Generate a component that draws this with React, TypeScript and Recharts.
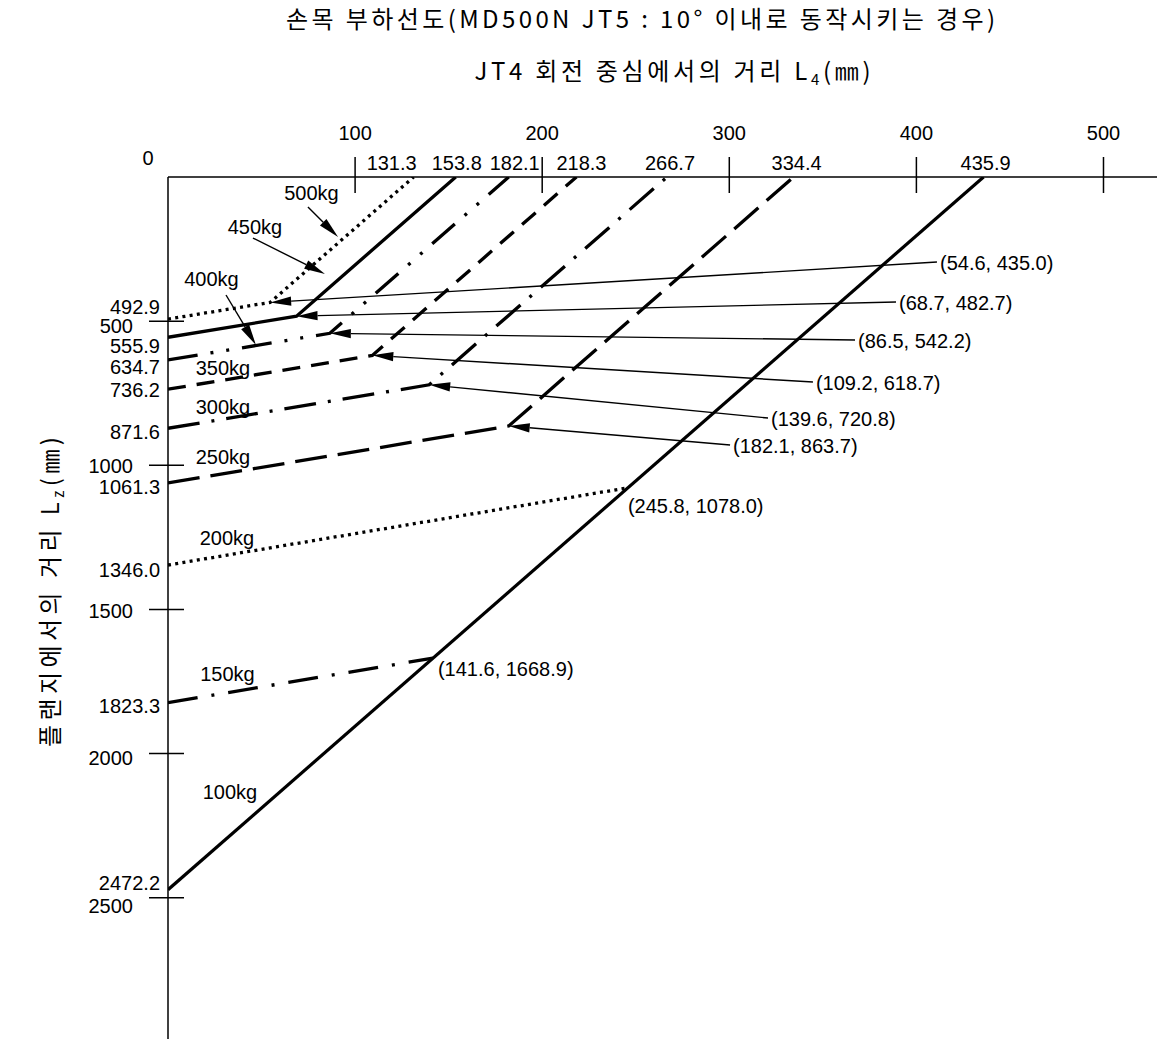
import React from 'react';
import { LineChart, Line, XAxis, YAxis, ReferenceLine, ReferenceDot } from 'recharts';

// load cases, heaviest first
const loads = ['500kg', '450kg', '400kg', '350kg', '300kg', '250kg', '200kg', '150kg', '100kg'];
// Lz where each curve starts on the L4 = 0 axis (mm)
const lzAtAxis = [492.9, 555.9, 634.7, 736.2, 871.6, 1061.3, 1346.0, 1823.3, 2472.2];
// knee of each curve (100kg is a single straight line)
const kneeL4 = [54.6, 68.7, 86.5, 109.2, 139.6, 182.1, 245.8, 141.6, null];
const kneeLz = [435.0, 482.7, 542.2, 618.7, 720.8, 863.7, 1078.0, 1668.9, null];
// L4 where the curve reaches Lz = 0 (150kg / 200kg stop on the 100kg line)
const l4AtAxis = [131.3, 153.8, 182.1, 218.3, 266.7, 334.4, null, null, 435.9];

const l4Ticks = [100, 200, 300, 400, 500];
const lzTicks = [500, 1000, 1500, 2000, 2500];

// line styles per load
const strokes: { w: number; dash?: string }[] = [
  { w: 3.3, dash: '3 4.3' },
  { w: 3.3 },
  { w: 3.3, dash: '30 13 3 13 3 13' },
  { w: 3.3, dash: '18 11' },
  { w: 3.3, dash: '32 12 3 12' },
  { w: 3.3, dash: '32 11' },
  { w: 3.3, dash: '3 4.3' },
  { w: 3.3, dash: '30 14 3 14' },
  { w: 3.2 },
];

// annotation layout, in chart units (L4 mm, Lz mm)
const tagAt = [
  [76.7, 55.5], [46.5, 171.7], [23.2, 352.8], [29.4, 662.5], [29.4, 796.1],
  [29.4, 969.5], [31.5, 1252.2], [31.8, 1723.9], [33.1, 2131.5],
];
const tagPointer: Record<number, number[][]> = {
  0: [[74.8, 104.1], [90.9, 208.1]],
  1: [[45.4, 211.6], [83.9, 336.5]],
  2: [[31.0, 409.3], [47.0, 582.7]],
};
const calloutAt = [
  [411.0, 294.8], [389.1, 433.6], [367.2, 565.4], [344.7, 711.1], [320.7, 836.0], [300.4, 929.6],
  null, null, null,
];
// knee labels written next to the point instead of with an arrow (px offsets)
const kneeLabelOffset: Record<number, number[]> = { 6: [0, 18], 7: [5, 11] };

// small label nudges (px) so neighbouring numbers do not collide
const lzLabelDy = [-12, 9, 7, 1, 4, 4, 5, 3, -7];
const lzTickDy = [5, 1, 1, 4, 8];
const topEnds = l4AtAxis.filter((v): v is number => v != null);
const topEndDx = [-22, 1, 6, 5, 3, 3, 2];

const FONT_NUM = "'Liberation Sans', Arial, sans-serif";
const FONT_KR = "'Noto Sans CJK KR', 'Noto Sans', sans-serif";

const curve = (i: number) => {
  const pts = [{ l4: 0, lz: lzAtAxis[i] }];
  if (kneeL4[i] != null) pts.push({ l4: kneeL4[i] as number, lz: kneeLz[i] as number });
  if (l4AtAxis[i] != null) pts.push({ l4: l4AtAxis[i] as number, lz: 0 });
  return pts;
};

const num = (x: number, y: number, s: string, anchor: 'start' | 'middle' | 'end' = 'middle') => (
  <text x={x} y={y} dy="0.36em" textAnchor={anchor} fontFamily={FONT_NUM} fontSize={20} fill="#000">
    {s}
  </text>
);

function Arrow({ x1, y1, x2, y2 }: any) {
  const len = Math.hypot(x2 - x1, y2 - y1) || 1;
  const ux = (x2 - x1) / len;
  const uy = (y2 - y1) / len;
  const head = 21;
  const half = 4.6;
  const bx = x2 - ux * head;
  const by = y2 - uy * head;
  return (
    <g>
      <line x1={x1} y1={y1} x2={bx} y2={by} stroke="#000" strokeWidth={1.4} />
      <polygon
        points={`${x2},${y2} ${bx - uy * half},${by + ux * half} ${bx + uy * half},${by - ux * half}`}
        fill="#000"
      />
    </g>
  );
}

function TopTick({ x, y, payload }: any) {
  const v = payload.value as number;
  if (l4Ticks.includes(v)) {
    return (
      <g>
        <line x1={x} x2={x} y1={y - 20} y2={y + 16} stroke="#000" strokeWidth={1.5} />
        {num(x, y - 44, String(v))}
      </g>
    );
  }
  const k = topEnds.indexOf(v);
  return num(x + (topEndDx[k] ?? 0), y - 14, v.toFixed(1));
}

function LeftTick({ x, y, payload }: any) {
  const v = payload.value as number;
  if (v === 0) return num(x - 20, y - 19, '0');
  const m = lzTicks.indexOf(v);
  if (m >= 0) {
    return (
      <g>
        <line x1={x - 19} x2={x + 16} y1={y} y2={y} stroke="#000" strokeWidth={1.5} />
        {num(x - 35, y + lzTickDy[m], String(v), 'end')}
      </g>
    );
  }
  const k = lzAtAxis.indexOf(v);
  return num(x - 8, y + (lzLabelDy[k] ?? 0), v.toFixed(1), 'end');
}

function Titles(props: any) {
  const vb = props.viewBox ?? { x: 168, y: 0, width: 989, height: 177 };
  const cx = vb.x + vb.width / 2;
  return (
    <g fontFamily={FONT_KR} fontSize={24} fill="#000">
      <text x={cx - 22} y={vb.y + 19} dy="0.36em" textAnchor="middle" textLength={709} lengthAdjust="spacing">
        손목 부하선도(MD500N JT5 : 10° 이내로 동작시키는 경우)
      </text>
      <text x={cx + 10} y={vb.y + 71} dy="0.36em" textAnchor="middle" textLength={396} lengthAdjust="spacing">
        JT4 회전 중심에서의 거리 L
        <tspan fontSize={15} dy={5}>4</tspan>
        <tspan dy={-5}>(㎜)</tspan>
      </text>
    </g>
  );
}

function SideTitle(props: any) {
  const vb = props.viewBox ?? { x: 0, y: 177, width: 168, height: 862 };
  const cx = 50;
  const cy = vb.y + vb.height / 2 - 16;
  return (
    <text
      x={cx}
      y={cy}
      dy="0.36em"
      transform={`rotate(-90 ${cx} ${cy})`}
      textAnchor="middle"
      textLength={310}
      lengthAdjust="spacing"
      fontFamily={FONT_KR}
      fontSize={24}
      fill="#000"
    >
      플랜지에서의 거리 L
      <tspan fontSize={15} dy={5}>z</tspan>
      <tspan dy={-5}>(㎜)</tspan>
    </text>
  );
}

export default function App() {
  const xTicks = [...l4Ticks, ...topEnds].sort((a, b) => a - b);
  const yTicks = [0, ...lzTicks, ...lzAtAxis].sort((a, b) => a - b);

  return (
    <div style={{ position: 'absolute', left: 0, top: 0, width: 1157, height: 1041, background: '#fff' }}>
      <LineChart width={1157} height={1041} margin={{ top: 0, right: 0, bottom: 2, left: 0 }}>
        <XAxis
          type="number"
          dataKey="l4"
          orientation="top"
          height={177}
          domain={[0, 528.6]}
          allowDataOverflow
          ticks={xTicks}
          interval={0}
          tick={<TopTick />}
          tickLine={false}
          tickSize={0}
          tickMargin={0}
          axisLine={{ stroke: '#000', strokeWidth: 1.5 }}
          label={{ content: <Titles /> }}
        />
        <YAxis
          type="number"
          reversed
          width={168}
          domain={[0, 2990]}
          allowDataOverflow
          ticks={yTicks}
          interval={0}
          tick={<LeftTick />}
          tickLine={false}
          tickSize={0}
          tickMargin={0}
          axisLine={{ stroke: '#000', strokeWidth: 1.5 }}
          label={{ content: <SideTitle /> }}
        />

        {loads.map((name, i) => (
          <Line
            key={name}
            name={name}
            data={curve(i)}
            dataKey="lz"
            type="linear"
            stroke="#000"
            strokeWidth={strokes[i].w}
            strokeDasharray={strokes[i].dash}
            strokeLinecap="butt"
            dot={false}
            activeDot={false}
            isAnimationActive={false}
          />
        ))}

        {loads.map((name, i) => (
          <ReferenceDot
            key={`tag-${name}`}
            x={tagAt[i][0]}
            y={tagAt[i][1]}
            r={0}
            ifOverflow="visible"
            shape={(p: any) => num(p.cx, p.cy, name)}
          />
        ))}

        {Object.entries(tagPointer).map(([k, seg]) => (
          <ReferenceLine
            key={`ptr-${k}`}
            segment={[{ x: seg[0][0], y: seg[0][1] }, { x: seg[1][0], y: seg[1][1] }]}
            ifOverflow="visible"
            shape={(p: any) => <Arrow {...p} />}
          />
        ))}

        {calloutAt.map((a, i) =>
          a ? (
            <ReferenceLine
              key={`callout-${i}`}
              segment={[{ x: a[0], y: a[1] }, { x: kneeL4[i] as number, y: kneeLz[i] as number }]}
              ifOverflow="visible"
              shape={(p: any) => (
                <g>
                  <Arrow {...p} />
                  {num(p.x1 + 3, p.y1 + 1, `(${kneeL4[i]}, ${(kneeLz[i] as number).toFixed(1)})`, 'start')}
                </g>
              )}
            />
          ) : null
        )}

        {Object.entries(kneeLabelOffset).map(([k, off]) => {
          const i = Number(k);
          return (
            <ReferenceDot
              key={`knee-${k}`}
              x={kneeL4[i] as number}
              y={kneeLz[i] as number}
              r={0}
              ifOverflow="visible"
              shape={(p: any) =>
                num(p.cx + off[0], p.cy + off[1], `(${kneeL4[i]}, ${(kneeLz[i] as number).toFixed(1)})`, 'start')
              }
            />
          );
        })}
      </LineChart>
    </div>
  );
}
